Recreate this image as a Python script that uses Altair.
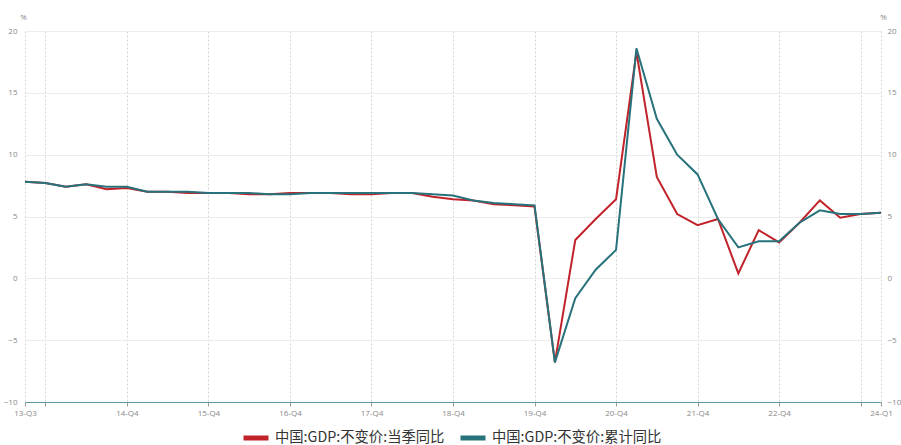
import altair as alt
import pandas as pd

# Quarter labels, 2013Q3 to 2024Q1
quarters = [
    "13-Q3", "13-Q4",
    "14-Q1", "14-Q2", "14-Q3", "14-Q4",
    "15-Q1", "15-Q2", "15-Q3", "15-Q4",
    "16-Q1", "16-Q2", "16-Q3", "16-Q4",
    "17-Q1", "17-Q2", "17-Q3", "17-Q4",
    "18-Q1", "18-Q2", "18-Q3", "18-Q4",
    "19-Q1", "19-Q2", "19-Q3", "19-Q4",
    "20-Q1", "20-Q2", "20-Q3", "20-Q4",
    "21-Q1", "21-Q2", "21-Q3", "21-Q4",
    "22-Q1", "22-Q2", "22-Q3", "22-Q4",
    "23-Q1", "23-Q2", "23-Q3", "23-Q4",
    "24-Q1",
]

# GDP at constant prices, year-on-year growth of the quarter (%)
gdp_quarter_yoy = [
    7.8, 7.7,
    7.4, 7.6, 7.2, 7.3,
    7.0, 7.0, 6.9, 6.9,
    6.9, 6.8, 6.8, 6.9,
    6.9, 6.9, 6.8, 6.8,
    6.9, 6.9, 6.6, 6.4,
    6.3, 6.0, 5.9, 5.8,
    -6.8, 3.1, 4.8, 6.4,
    18.3, 8.2, 5.2, 4.3,
    4.8, 0.4, 3.9, 2.9,
    4.5, 6.3, 4.9, 5.2,
    5.3,
]

# GDP at constant prices, cumulative year-to-date growth (%)
gdp_cumulative_yoy = [
    7.8, 7.7,
    7.4, 7.6, 7.4, 7.4,
    7.0, 7.0, 7.0, 6.9,
    6.9, 6.9, 6.8, 6.8,
    6.9, 6.9, 6.9, 6.9,
    6.9, 6.9, 6.8, 6.7,
    6.3, 6.1, 6.0, 5.9,
    -6.8, -1.6, 0.7, 2.3,
    18.6, 12.9, 10.0, 8.4,
    4.8, 2.5, 3.0, 3.0,
    4.5, 5.5, 5.2, 5.2,
    5.3,
]

name_q = "中国:GDP:不变价:当季同比"
name_c = "中国:GDP:不变价:累计同比"
series_names = [name_q, name_c]
series_colors = ["#C1232B", "#27727B"]

df = pd.DataFrame({
    "quarter": quarters * 2,
    "value": gdp_quarter_yoy + gdp_cumulative_yoy,
    "series": [name_q] * len(quarters) + [name_c] * len(quarters),
})

tick_quarters = [quarters[0]] + quarters[1::4] + [quarters[-1]]
hidden = [quarters[1], quarters[41]]
label_expr = "indexof(%s, datum.value) >= 0 ? '' : datum.value" % str(hidden)

label_font = "Open Sans"
y_domain = [-10, 20]
y_ticks = [-10, -5, 0, 5, 10, 15, 20]

x_enc = alt.X(
    "quarter:O",
    sort=quarters,
    scale=alt.Scale(type="point", padding=0),
    axis=alt.Axis(
        title=None,
        values=tick_quarters,
        labelExpr=label_expr,
        labelAngle=0,
        labelOverlap=False,
        labelBound=False,
        labelFont=label_font,
        labelFontSize=8,
        labelColor="#888888",
        labelPadding=3,
        tickColor="#999999",
        tickSize=4,
        domainColor="#5c9a9e",
        domainWidth=1.2,
        grid=True,
        gridColor="#d4d4d4",
        gridDash=[2, 2],
        gridWidth=1,
    ),
)

color_enc = alt.Color(
    "series:N",
    scale=alt.Scale(domain=series_names, range=series_colors),
    legend=alt.Legend(
        title=None,
        orient="none",
        direction="horizontal",
        legendX=216,
        legendY=392,
        symbolType="stroke",
        symbolStrokeWidth=5,
        symbolSize=625,
        labelFont="Noto Sans CJK SC",
        labelFontSize=14.3,
        labelColor="#333333",
        labelLimit=0,
        labelOffset=4,
        columnPadding=5,
    ),
)


def y_axis(orient, title_x, pad):
    return alt.Axis(
        orient=orient,
        values=y_ticks,
        title="%",
        titleAngle=0,
        titleX=title_x,
        titleY=-10,
        titleFont=label_font,
        titleFontSize=8,
        titleFontWeight="normal",
        titleColor="#888888",
        labelFont=label_font,
        labelFontSize=8,
        labelColor="#888888",
        labelPadding=pad,
        ticks=False,
        domain=False,
        grid=orient == "left",
        gridColor="#ececec",
        gridWidth=1,
    )


base = alt.Chart(df).mark_line(strokeWidth=2)

quarter_line = base.transform_filter(alt.datum.series == name_q).encode(
    x=x_enc,
    y=alt.Y("value:Q", scale=alt.Scale(domain=y_domain, nice=False),
            axis=y_axis("left", -2, 8)),
    color=color_enc,
)

cumulative_line = base.transform_filter(alt.datum.series == name_c).encode(
    x=x_enc,
    y=alt.Y("value:Q", scale=alt.Scale(domain=y_domain, nice=False),
            axis=y_axis("right", 2, 6)),
    color=color_enc,
)

chart = (
    alt.layer(quarter_line, cumulative_line)
    .resolve_scale(y="independent")
    .properties(
        width=856,
        height=371,
        padding={"left": 25, "top": 31, "right": 20, "bottom": 43},
        autosize=alt.AutoSizeParams(type="none"),
        background="white",
    )
    .configure_view(stroke=None)
)

chart.save("out.html", embed_options={"renderer": "svg", "actions": False})
